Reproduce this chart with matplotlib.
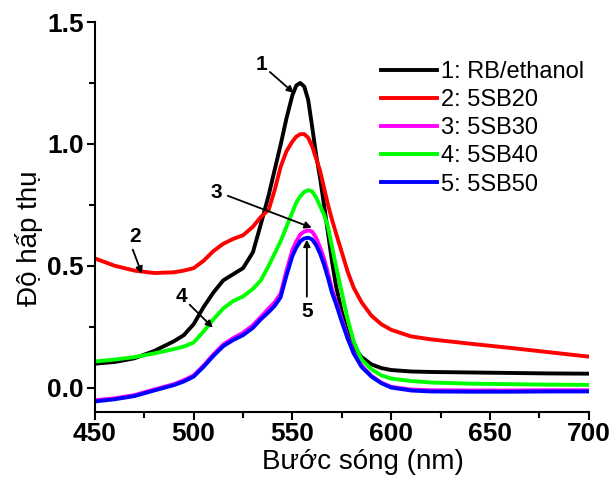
import numpy as np
import matplotlib.pyplot as plt

plt.rcParams['font.family'] = ['Liberation Sans', 'DejaVu Sans']

# wavelength grid (nm) and absorbance
wl = [450, 460, 470, 480, 490, 495, 500, 505, 510, 515, 520, 525, 530, 534,
      538, 541, 544, 547, 550, 552, 554, 556, 558, 560, 562, 564, 566, 568,
      570, 572, 575, 578, 581, 585, 590, 595, 600, 610, 620, 640, 660, 680, 700]

rb_ethanol = [0.098, 0.105, 0.12, 0.15, 0.19, 0.215, 0.26, 0.33, 0.39, 0.44,
              0.465, 0.49, 0.555, 0.67, 0.79, 0.893, 0.995, 1.105, 1.20, 1.24,
              1.25, 1.235, 1.18, 1.07, 0.955, 0.86, 0.75, 0.635, 0.52, 0.42,
              0.31, 0.225, 0.17, 0.125, 0.095, 0.08, 0.072, 0.066, 0.064,
              0.062, 0.060, 0.058, 0.057]
sb20 = [0.53, 0.50, 0.48, 0.47, 0.473, 0.48, 0.49, 0.52, 0.56, 0.59, 0.61,
        0.625, 0.66, 0.70, 0.73, 0.81, 0.905, 0.97, 1.01, 1.03, 1.04, 1.04,
        1.025, 0.99, 0.94, 0.89, 0.82, 0.75, 0.69, 0.635, 0.555, 0.475, 0.41,
        0.35, 0.295, 0.26, 0.237, 0.21, 0.198, 0.18, 0.163, 0.145, 0.127]
sb30 = [-0.052, -0.044, -0.031, -0.008, 0.014, 0.03, 0.05, 0.09, 0.136,
        0.177, 0.203, 0.225, 0.256, 0.29, 0.325, 0.35, 0.385, 0.48, 0.565,
        0.60, 0.628, 0.64, 0.645, 0.64, 0.615, 0.575, 0.53, 0.47, 0.405,
        0.355, 0.28, 0.207, 0.145, 0.09, 0.048, 0.02, 0.003, -0.008, -0.011,
        -0.012, -0.012, -0.011, -0.011]
sb40 = [0.107, 0.115, 0.125, 0.14, 0.158, 0.168, 0.185, 0.23, 0.28, 0.325,
        0.355, 0.374, 0.405, 0.44, 0.50, 0.55, 0.60, 0.66, 0.72, 0.76, 0.785,
        0.803, 0.81, 0.805, 0.78, 0.745, 0.71, 0.66, 0.58, 0.50, 0.39, 0.28,
        0.19, 0.115, 0.075, 0.05, 0.037, 0.027, 0.021, 0.016, 0.014, 0.012,
        0.011]
sb50 = [-0.057, -0.048, -0.035, -0.012, 0.01, 0.025, 0.045, 0.085, 0.13,
        0.17, 0.195, 0.215, 0.245, 0.28, 0.31, 0.335, 0.37, 0.46, 0.54, 0.575,
        0.60, 0.612, 0.615, 0.608, 0.585, 0.55, 0.505, 0.45, 0.39, 0.345,
        0.27, 0.20, 0.14, 0.085, 0.045, 0.018, 0.0, -0.012, -0.016, -0.017,
        -0.017, -0.016, -0.016]

labels = ['1: RB/ethanol', '2: 5SB20', '3: 5SB30', '4: 5SB40', '5: 5SB50']
colors = ['black', 'red', 'magenta', '#00ff00', 'blue']
series = [rb_ethanol, sb20, sb30, sb40, sb50]

# curve number labels: text position, arrow tail, arrow head
ann_text = ['1', '2', '3', '4', '5']
ann_pos = [(534.5, 1.324), (470.2, 0.619), (511.7, 0.80), (494.0, 0.373), (557.3, 0.311)]
ann_tail = [(538.6, 1.295), (469.2, 0.566), (517.3, 0.787), (498.0, 0.34), (557.3, 0.373)]
ann_head = [(550.7, 1.209), (473.8, 0.467), (559.8, 0.656), (509.7, 0.246), (557.3, 0.607)]

fig = plt.figure(figsize=(6.12, 4.79), dpi=100)
ax = fig.add_axes([0.155, 0.140, 0.807, 0.814])

for y, c, lab in zip(series, colors, labels):
    ax.plot(wl, y, color=c, lw=2.8, label=lab)

for t, p, a, b in zip(ann_text, ann_pos, ann_tail, ann_head):
    ax.text(p[0], p[1], t, fontsize=15, fontweight='bold', ha='center', va='center')
    ax.annotate('', xy=b, xytext=a,
                arrowprops=dict(arrowstyle='-|>', color='black', lw=1.3,
                                mutation_scale=10, shrinkA=0, shrinkB=0))

ax.set_xlim(450, 700)
ax.set_ylim(-0.1, 1.5)
ax.set_xticks([450, 500, 550, 600, 650, 700])
ax.set_xticks(np.arange(450, 701, 25), minor=True)
ax.set_yticks([0.0, 0.5, 1.0, 1.5])
ax.set_yticks([0.25, 0.75, 1.25], minor=True)
ax.spines['top'].set_visible(False)
ax.spines['right'].set_visible(False)
for s in ['left', 'bottom']:
    ax.spines[s].set_linewidth(1.5)
ax.tick_params(which='major', direction='out', length=6, width=1.5)
ax.tick_params(which='minor', direction='out', length=4, width=1.5)
ax.tick_params(axis='x', pad=1)
ax.tick_params(axis='y', pad=2)
for lbl in ax.get_xticklabels() + ax.get_yticklabels():
    lbl.set_fontweight('bold')
    lbl.set_fontsize(19)

ax.set_xlabel('Bước sóng (nm)', fontsize=20)
ax.set_ylabel('Độ hấp thụ', fontsize=20)
ax.xaxis.set_label_coords(0.543, -0.095)
ax.yaxis.set_label_coords(-0.105, 0.446)

ax.legend(loc='upper left', bbox_to_anchor=(0.579, 0.90), frameon=False,
          fontsize=17, handlelength=2.37, handletextpad=0.2, labelspacing=0.26,
          borderpad=0, borderaxespad=0)

fig.savefig('out.png', dpi=100)
